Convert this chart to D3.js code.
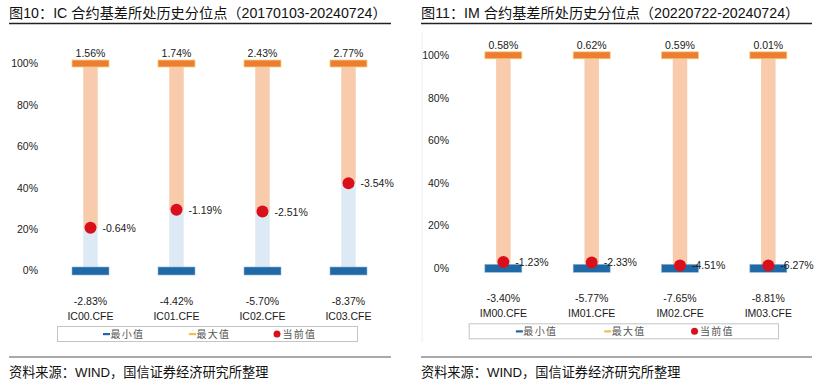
<!DOCTYPE html>
<html>
<head>
<meta charset="utf-8">
<script src="https://cdn.jsdelivr.net/npm/d3@7"></script>
<style>
  html, body { margin: 0; padding: 0; background: #fff; }
  svg { display: block; }
  text { font-family: "Liberation Sans", Arial, "Noto Sans CJK SC", sans-serif; }
</style>
</head>
<body>
<div id="chart"></div>
<script>
// IC contracts
const icCategories = ['IC00.CFE', 'IC01.CFE', 'IC02.CFE', 'IC03.CFE']
const icMax = [1.56, 1.74, 2.43, 2.77]
const icMin = [-2.83, -4.42, -5.70, -8.37]
const icCurrent = [-0.64, -1.19, -2.51, -3.54]
const icPercentile = [20.6, 29.3, 28.5, 42.2]

// IM contracts
const imCategories = ['IM00.CFE', 'IM01.CFE', 'IM02.CFE', 'IM03.CFE']
const imMax = [0.58, 0.62, 0.59, 0.01]
const imMin = [-3.40, -5.77, -7.65, -8.81]
const imCurrent = [-1.23, -2.33, -4.51, -6.27]
const imPercentile = [2.7, 2.5, 1.1, 1.1]

const yTicks = [0, 20, 40, 60, 80, 100]
const legendLabels = ['最小值', '最大值', '当前值']

const W = 819
const H = 387
const fmt = d => d.toFixed(2) + '%'

const svg = d3.select('#chart').append('svg')
  .attr('width', W)
  .attr('height', H)

svg.append('rect').attr('width', W).attr('height', H).attr('fill', '#fff')

function panel({ title, left, right, axisX, xRange, yRange, cats, maxV, minV, curV, pct, frame }) {
  const g = svg.append('g')
  const capW = 37
  const capH = 7
  const colW = 14.5

  // title + rules
  g.append('text')
    .attr('x', left).attr('y', 17.5)
    .attr('font-size', 14.2).attr('fill', '#111')
    .text(title)
  g.append('line')
    .attr('x1', left).attr('x2', right).attr('y1', 23.5).attr('y2', 23.5)
    .attr('stroke', '#222').attr('stroke-width', 1.3)
  g.append('line')
    .attr('x1', left).attr('x2', right).attr('y1', 357).attr('y2', 357)
    .attr('stroke', '#555').attr('stroke-width', 1.2)
  g.append('text')
    .attr('x', left).attr('y', 377)
    .attr('font-size', 13.2).attr('fill', '#111')
    .text('资料来源：WIND，国信证券经济研究所整理')

  if (frame) {
    g.append('line')
      .attr('x1', frame).attr('x2', frame).attr('y1', 32).attr('y2', 342)
      .attr('stroke', '#eeeeee')
  }

  const x = d3.scaleBand().domain(cats).range(xRange).padding(0)
  const y = d3.scaleLinear().domain([0, 100]).range(yRange)
  const cx = c => x(c) + x.bandwidth() / 2

  // y axis
  const ax = g.append('g')
    .attr('transform', `translate(${axisX},0)`)
    .call(d3.axisLeft(y).tickValues(yTicks).tickSize(0).tickPadding(2).tickFormat(d => d + '%'))
  ax.select('.domain').remove()
  ax.selectAll('text')
    .attr('font-size', 10.5).attr('fill', '#222')
    .attr('font-family', '"Liberation Sans", Arial, sans-serif')

  const rows = cats.map((c, i) => ({ c, max: maxV[i], min: minV[i], cur: curV[i], p: pct[i] }))

  const col = g.selectAll('.col').data(rows).enter().append('g').attr('class', 'col')

  // light blue: 0 -> percentile
  col.append('rect')
    .attr('x', d => cx(d.c) - colW / 2)
    .attr('width', colW)
    .attr('y', d => y(d.p))
    .attr('height', d => y(0) - y(d.p))
    .attr('fill', '#ddeaf6')
  // light orange: percentile -> 100
  col.append('rect')
    .attr('x', d => cx(d.c) - colW / 2)
    .attr('width', colW)
    .attr('y', y(100))
    .attr('height', d => y(d.p) - y(100))
    .attr('fill', '#f7cbac')

  // max cap
  col.append('rect')
    .attr('x', d => cx(d.c) - capW / 2)
    .attr('width', capW)
    .attr('y', y(100) - capH / 2)
    .attr('height', capH)
    .attr('fill', '#ed7d31')
    .attr('stroke', '#f6cf7e').attr('stroke-width', 0.8)
  // min cap
  col.append('rect')
    .attr('x', d => cx(d.c) - capW / 2)
    .attr('width', capW)
    .attr('y', y(0) - capH / 2)
    .attr('height', capH + 1)
    .attr('fill', '#1f69a6')
    .attr('stroke', '#8fb6d9').attr('stroke-width', 0.6)

  // current dot
  col.append('circle')
    .attr('cx', d => cx(d.c))
    .attr('cy', d => y(d.p))
    .attr('r', 6)
    .attr('fill', '#da0f1c')

  const lbl = sel => sel.attr('font-size', 10.5).attr('fill', '#1a1a1a')

  col.append('text').call(lbl)
    .attr('x', d => cx(d.c)).attr('y', y(100) - capH / 2 - 3)
    .attr('text-anchor', 'middle')
    .text(d => fmt(d.max))
  col.append('text').call(lbl)
    .attr('x', d => cx(d.c) + 12).attr('y', d => y(d.p) + 4)
    .text(d => fmt(d.cur))
  col.append('text').call(lbl)
    .attr('x', d => cx(d.c)).attr('y', y(0) + 34.5)
    .attr('text-anchor', 'middle')
    .text(d => fmt(d.min))
  col.append('text').call(lbl)
    .attr('x', d => cx(d.c)).attr('y', y(0) + 49.5)
    .attr('text-anchor', 'middle')
    .text(d => d.c)

  // legend
  const lx0 = xRange[0] + 10
  const lw = (xRange[1] - xRange[0]) - 44
  const ly = y(0) + 56
  g.append('rect')
    .attr('x', lx0).attr('y', ly).attr('width', lw).attr('height', 15)
    .attr('fill', '#fff').attr('stroke', '#c4c4c4').attr('stroke-width', 1)
  const marks = ['#1f69a6', '#f0bf4c', '#da0f1c']
  legendLabels.forEach((t, i) => {
    const mx = cx(cats[i]) + 16
    if (i < 2) {
      g.append('rect').attr('x', mx - 3.5).attr('y', ly + 6.5).attr('width', 7).attr('height', 2.2).attr('fill', marks[i])
    } else {
      g.append('circle').attr('cx', mx - 1.5).attr('cy', ly + 7.5).attr('r', 3.5).attr('fill', marks[i])
    }
    g.append('text')
      .attr('x', mx + 4).attr('y', ly + 11.3)
      .attr('font-size', 10).attr('letter-spacing', 1.3)
      .attr('fill', '#555')
      .attr('font-family', '"Noto Sans CJK SC", sans-serif')
      .text(t)
  })
}

panel({
  title: '图10：IC 合约基差所处历史分位点（20170103-20240724）',
  left: 9, right: 391, axisX: 40,
  xRange: [47.5, 391.5], yRange: [270.5, 63.5],
  cats: icCategories, maxV: icMax, minV: icMin, curV: icCurrent, pct: icPercentile
})

panel({
  title: '图11：IM 合约基差所处历史分位点（20220722-20240724）',
  left: 421, right: 812, axisX: 451,
  xRange: [459.2, 812.5], yRange: [267.8, 55.3],
  cats: imCategories, maxV: imMax, minV: imMin, curV: imCurrent, pct: imPercentile,
  frame: 422
})
</script>
</body>
</html>
